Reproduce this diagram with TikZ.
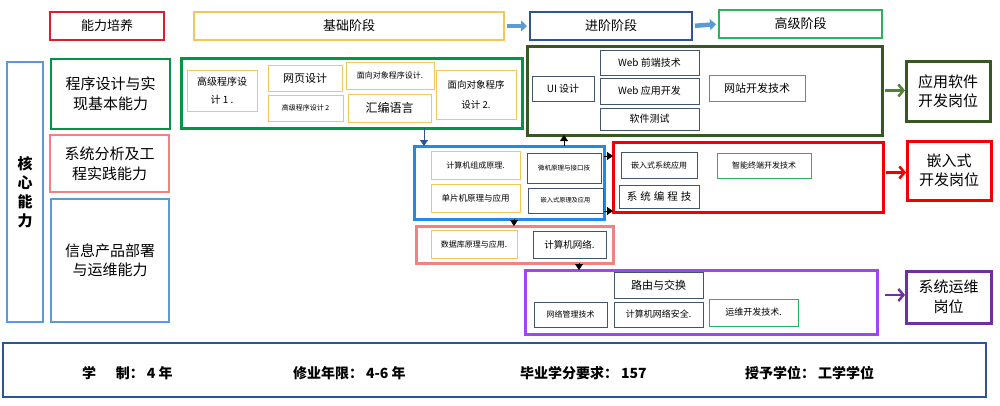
\documentclass[tikz,border=0pt]{standalone}
\usepackage{fontspec}
\setmainfont{Noto Sans CJK SC}
\usetikzlibrary{arrows.meta,calc}
\definecolor{cRed}{RGB}{220,30,40}
\definecolor{cGold}{RGB}{242,200,90}
\definecolor{cNavy}{RGB}{47,84,150}
\definecolor{cLGreen}{RGB}{40,180,90}
\definecolor{cGreen}{RGB}{0,150,70}
\definecolor{cSky}{RGB}{91,155,213}
\definecolor{cBlue}{RGB}{30,140,230}
\definecolor{cPink}{RGB}{240,130,130}
\definecolor{cOlive}{RGB}{56,87,35}
\definecolor{cOliveA}{RGB}{84,130,53}
\definecolor{cSlate}{RGB}{68,84,106}
\definecolor{cPurple}{RGB}{160,70,240}
\definecolor{cDPurple}{RGB}{112,48,160}
\definecolor{cBR}{RGB}{240,0,0}
\definecolor{cArrow}{RGB}{91,155,213}
\newcommand\fsz[2]{\fontsize{#1}{#2}\selectfont}
% name, style, x1, y1, x2, y2, text
\newcommand\Bx[7]{\node[#2, minimum width={(#5-#3)*1pt}, minimum height={(#6-#4)*1pt}] (#1) at ({(#3+#5)/2},{(#4+#6)/2}) {#7};}
\begin{document}
\begin{tikzpicture}[x=1pt,y=-1pt,
  every node/.style={inner sep=0pt, outer sep=0pt, align=center},
  ttl/.style={draw, line width=2pt},
  grp/.style={draw, line width=3pt},
  capbox/.style={draw, line width=2.5pt},
  bx/.style={draw, line width=1pt},
  arr/.style={-{Triangle[length=6pt,width=8pt]}, line width=0.8pt},
  blockarr/.style={line width=4.5pt, cArrow, -{Triangle[length=6pt,width=11pt]}, shorten <=3pt, shorten >=3pt},
  jobarr/.style={line width=2.5pt, -{Straight Barb[length=5pt,width=12pt,line width=2.5pt]}, shorten <=3pt, shorten >=1pt}]
\useasboundingbox (0,0) rectangle (1000,405);

% header row
\Bx{nlpy}{ttl,draw=cRed,font=\fsz{13}{16}}{50}{12}{164}{40}{能力培养}
\Bx{jc}{ttl,draw=cGold,font=\fsz{13}{16}}{194}{12}{504}{40}{基础阶段}
\Bx{jj}{ttl,draw=cNavy,font=\fsz{13}{16}}{530}{12}{692}{40}{进阶阶段}
\Bx{gj}{ttl,draw=cLGreen,font=\fsz{13}{16}}{719}{10}{882}{38}{高级阶段}
\draw[blockarr] (jc.east) -- (jj.west);
\draw[blockarr] (jj.east) -- (gj.west);

% core abilities
\Bx{hx}{ttl,draw=cSky,font=\fsz{15}{19}\bfseries}{7}{62}{43}{322}{核\\心\\能\\力}
\Bx{a1}{capbox,draw=cGreen,font=\fsz{15}{20}}{51}{59}{170}{129}{程序设计与实\\现基本能力}
\Bx{a2}{capbox,draw=cPink,font=\fsz{15}{20}}{50}{135}{169}{192}{系统分析及工\\程实践能力}
\Bx{a3}{capbox,draw=cSky,font=\fsz{15}{19}}{51}{199}{169}{322}{信息产品部署\\与运维能力}

% basic stage group
\Bx{basic}{grp,draw=cGreen}{181}{58}{522}{128}{}
\Bx{b1}{bx,draw=cGold,font=\fsz{10}{18}}{187}{70}{257}{111}{高级程序设\\计 1 .}
\Bx{b2}{bx,draw=cGold,font=\fsz{11}{14}}{268}{65}{342}{91}{网页设计}
\Bx{b3}{bx,draw=cGold,font=\fsz{7}{9}}{268}{95}{343}{121}{高级程序设计 2}
\Bx{b4}{bx,draw=cGold,font=\fsz{8}{10}}{346}{62}{434}{89}{面向对象程序设计.}
\Bx{b5}{bx,draw=cGold,font=\fsz{12}{14}}{348}{94}{431}{122}{汇编语言}
\Bx{b6}{bx,draw=cGold,font=\fsz{9.5}{20}}{436}{70}{516}{119}{面向对象程序\\设计 2.}

% advanced (software) group
\Bx{adv}{grp,draw=cOlive}{527}{46}{882}{135}{}
\Bx{c1}{bx,draw=cSlate,font=\fsz{10}{12}}{532}{76}{594}{101}{UI 设计}
\Bx{c2}{bx,draw=cSlate,font=\fsz{10}{12}}{600}{50}{699}{75}{Web 前端技术}
\Bx{c3}{bx,draw=cSlate,font=\fsz{10}{12}}{600}{78}{699}{104}{Web 应用开发}
\Bx{c4}{bx,draw=cSlate,font=\fsz{10}{12}}{600}{108}{699}{130}{软件测试}
\Bx{c5}{bx,draw=cLGreen,font=\fsz{11}{13}}{709}{75}{805}{101}{网站开发技术}
\Bx{job1}{ttl,draw=cOlive,line width=3pt,font=\fsz{15}{19}}{906}{61}{990}{121}{应用软件\\开发岗位}
\draw[jobarr,cOliveA] (adv.east) -- (adv.east -| job1.west);

% middle (blue) group
\Bx{mid}{grp,draw=cBlue}{414}{146}{604}{219}{}
\Bx{d1}{bx,draw=cGold,font=\fsz{8}{10}}{431}{151}{520}{179}{计算机组成原理.}
\Bx{d2}{bx,draw=cGold,font=\fsz{8.5}{10}}{431}{184}{520}{212}{单片机原理与应用}
\Bx{d3}{bx,draw=cSlate,font=\fsz{6.5}{8}}{527}{153}{601}{183}{微机原理与接口技}
\Bx{d4}{bx,draw=cSlate,font=\fsz{6.2}{8}}{528}{188}{603}{213}{嵌入式原理及应用}

% pink group
\Bx{pnk}{grp,draw=cPink}{416}{226}{613}{263}{}
\Bx{e1}{bx,draw=cGold,font=\fsz{8}{10}}{431}{230}{517}{258}{数据库原理与应用.}
\Bx{e2}{bx,draw=cSlate,font=\fsz{9.5}{11}}{533}{231}{606}{258}{计算机网络.}

% red (embedded) group
\Bx{emb}{grp,draw=cBR}{613}{142}{883}{212}{}
\Bx{f1}{bx,draw=cSlate,font=\fsz{8}{10}}{621}{152}{697}{178}{嵌入式系统应用}
\Bx{f2}{bx,draw=cSlate,font=\fsz{10.5}{12}}{619}{185}{699}{208}{系\hspace{3pt}统\hspace{3pt}编\hspace{3pt}程\hspace{3pt}技}
\Bx{f3}{bx,draw=cLGreen,font=\fsz{8}{10}}{717}{153}{811}{178}{智能终端开发技术}
\Bx{job2}{ttl,draw=cBR,line width=3pt,font=\fsz{15}{19}}{907}{141}{991}{200}{嵌入式\\开发岗位}
\draw[jobarr,cBR] ([yshift=4.5pt]emb.east) -- ([yshift=4.5pt]emb.east -| job2.west);

% purple (operations) group
\Bx{ops}{grp,draw=cPurple}{525}{270}{877}{334}{}
\Bx{g1}{bx,draw=cSlate,font=\fsz{11}{13}}{614}{272}{703}{298}{路由与交换}
\Bx{g2}{bx,draw=cSlate,font=\fsz{8}{10}}{534}{302}{607}{327}{网络管理技术}
\Bx{g3}{bx,draw=cSlate,font=\fsz{9}{11}}{614}{302}{703}{327}{计算机网络安全.}
\Bx{g4}{bx,draw=cLGreen,font=\fsz{9}{11}}{709}{299}{798}{326}{运维开发技术.}
\Bx{job3}{ttl,draw=cDPurple,line width=3pt,font=\fsz{15}{20}}{906}{271}{991}{323}{系统运维\\岗位}
\draw[jobarr,cDPurple] ([yshift=7pt,xshift=5pt]ops.east) -- ([yshift=7pt]ops.east -| job3.west);

% flow connectors
\draw[arr,cNavy] ([xshift=10pt]mid.north west |- basic.south) -- ([xshift=10pt]mid.north west);
\draw[arr,black] ([xshift=150pt]mid.north west) -- ([xshift=150pt]mid.north west |- adv.south);
\draw[arr,black] ([yshift=-10pt]mid.north east) -- ([yshift=-10pt]mid.north east -| emb.west);
\draw[arr,black] ([yshift=8pt]mid.south east) -- ([yshift=8pt]mid.south east -| emb.west);
\draw[arr,black] ([xshift=100pt]mid.south west) -- ([xshift=100pt]mid.south west |- pnk.north);
\draw[arr,black] ([xshift=163pt]pnk.south west) -- ([xshift=163pt]pnk.south west |- ops.north);

% bottom information bar
\Bx{info}{draw=cNavy,line width=2pt}{3}{343}{986}{397}{}
\node[anchor=west,font=\fsz{14}{16}\bfseries] (t1) at (82,373) {学\hspace{20pt}制：\hspace{3pt}4 年};
\node[anchor=west,font=\fsz{14}{16}\bfseries] (t2) at (293,373) {修业年限：\hspace{3pt}4-6 年};
\node[anchor=west,font=\fsz{14}{16}\bfseries] (t3) at (520,373) {毕业学分要求：\hspace{3pt}157};
\node[anchor=west,font=\fsz{14}{16}\bfseries] (t4) at (745,373) {授予学位：\hspace{3pt}工学学位};
\end{tikzpicture}
\end{document}
